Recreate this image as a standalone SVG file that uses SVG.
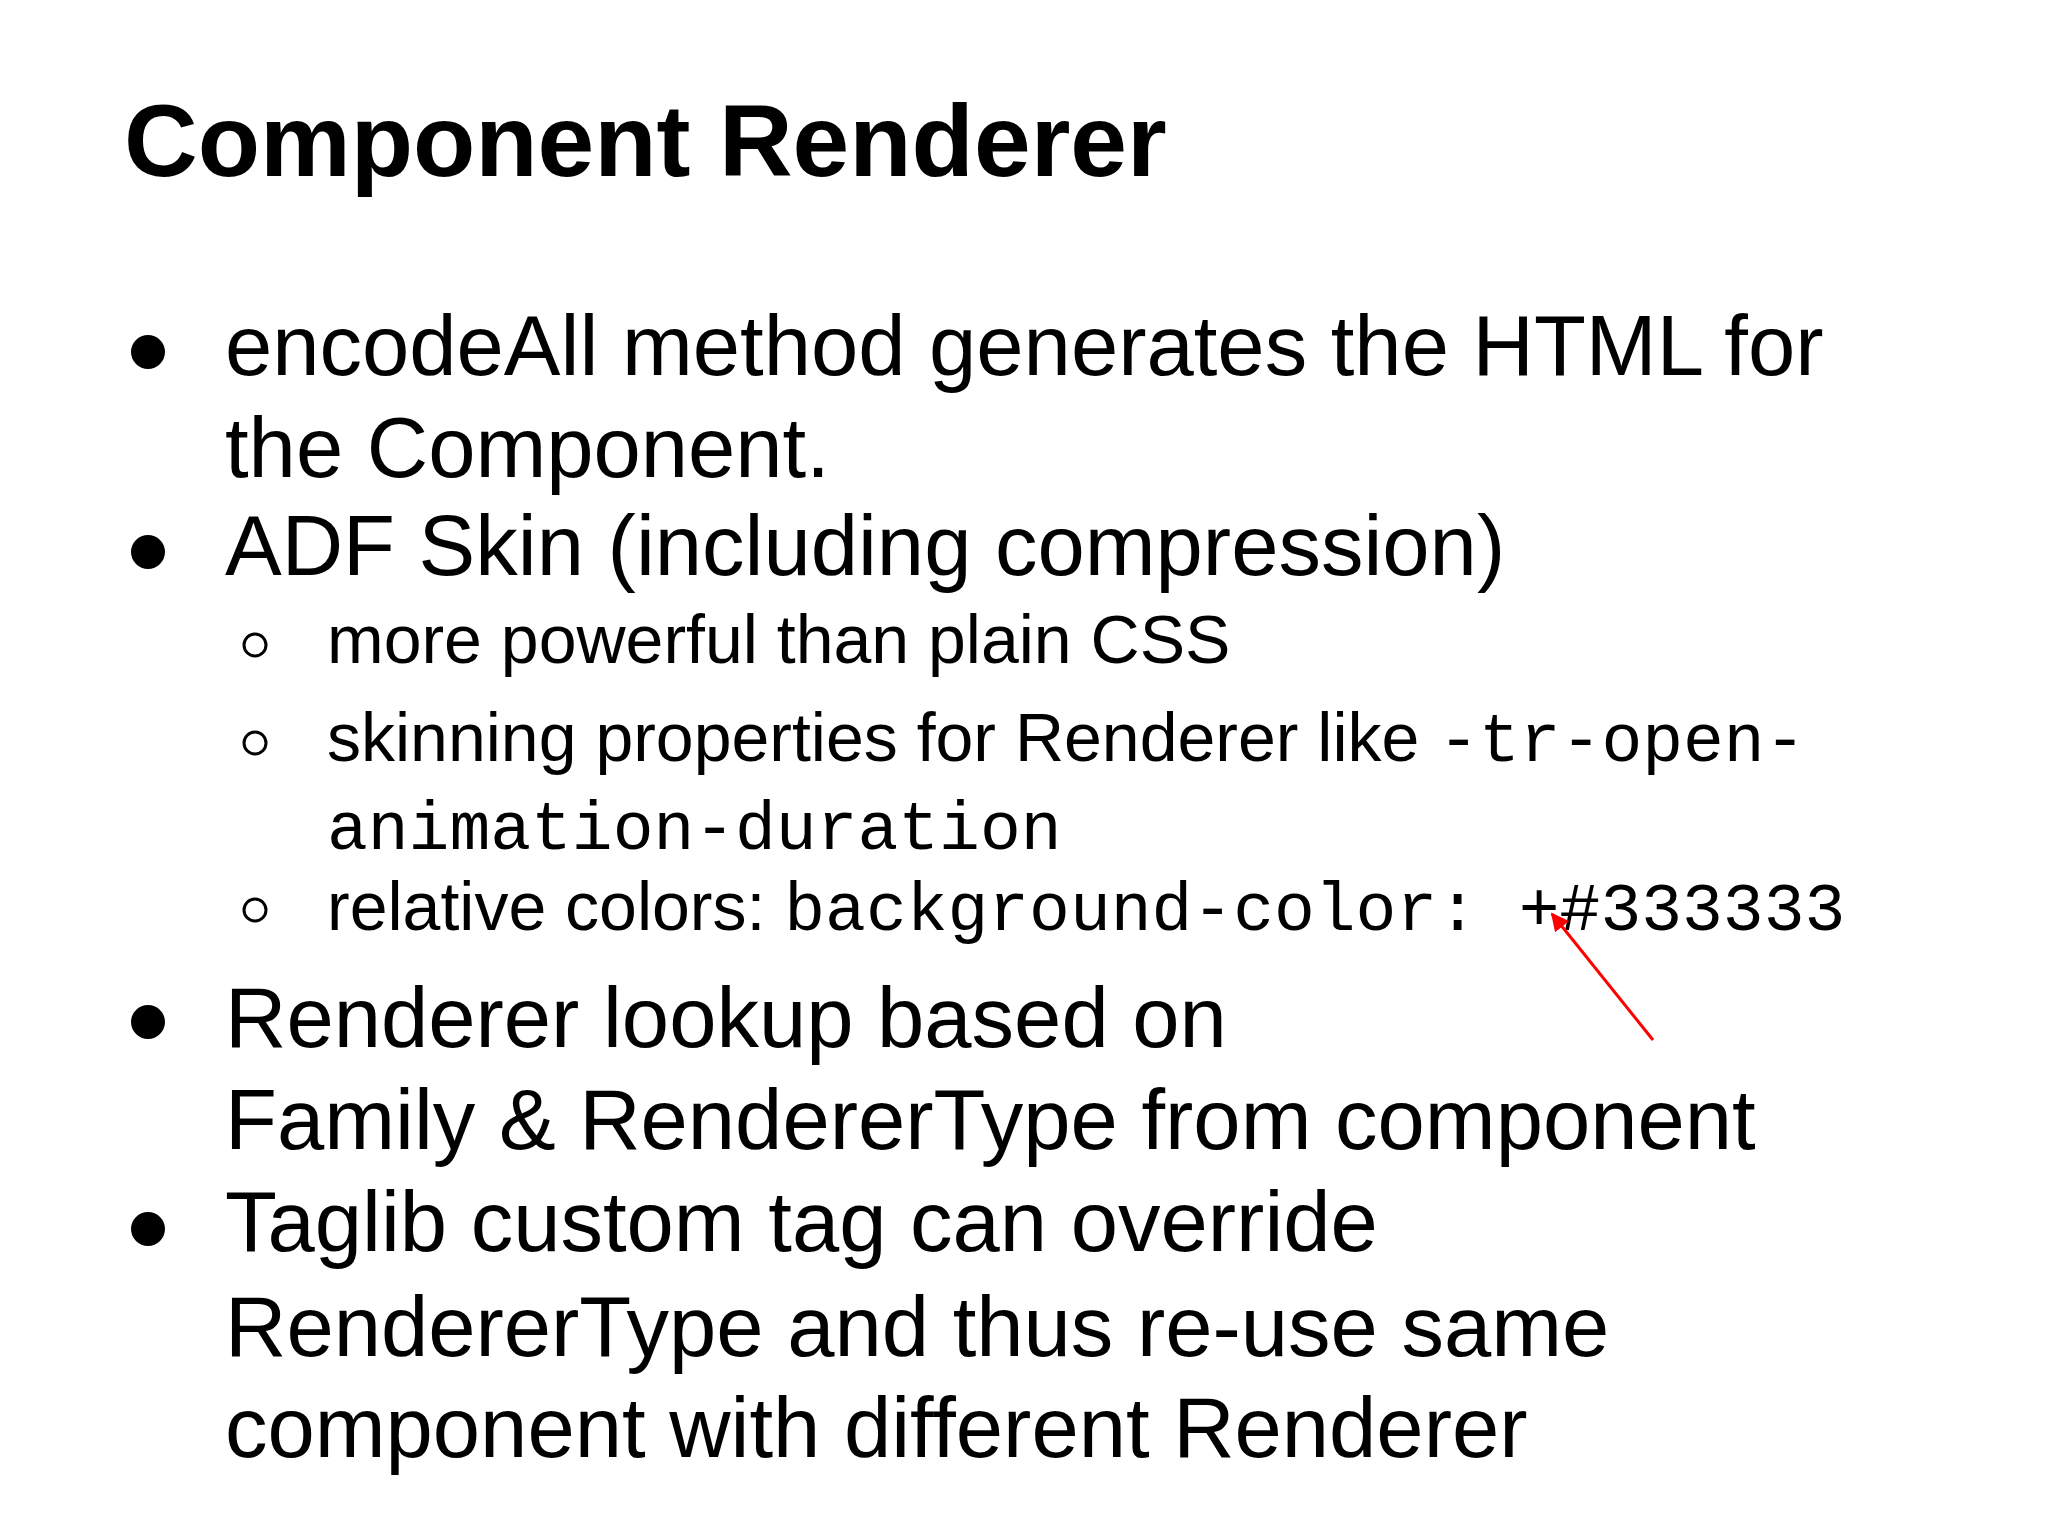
<svg xmlns="http://www.w3.org/2000/svg" width="2048" height="1536" viewBox="0 0 2048 1536">
<defs>
<style>
.t{font-family:"Liberation Sans",Arial,sans-serif;fill:#000}
.b{font-size:85px}
.s{font-size:68px}
.m{font-family:"Liberation Mono","Courier New",monospace;font-size:68px}
</style>
<marker id="ah" viewBox="0 0 10 10" refX="9" refY="5" markerWidth="6" markerHeight="6" orient="auto"><path d="M0,0L10,5L0,10z" fill="#f00"/></marker>
</defs>
<rect width="2048" height="1536" fill="#fff"/>
<text class="t" x="124" y="176" font-size="102" font-weight="bold">Component Renderer</text>
<g id="bullets" fill="#000">
<circle cx="148" cy="352" r="17"/>
<circle cx="148" cy="552" r="17"/>
<circle cx="148" cy="1022" r="17"/>
<circle cx="148" cy="1229" r="17"/>
</g>
<g id="subbullets" fill="none" stroke="#000" stroke-width="3">
<circle cx="255" cy="645" r="11"/>
<circle cx="255" cy="743" r="11"/>
<circle cx="255" cy="910" r="11"/>
</g>
<g class="t b">
<text x="225" y="375">encodeAll method generates the HTML for</text>
<text x="225" y="477">the Component.</text>
<text x="225" y="575">ADF Skin (including compression)</text>
<text x="225" y="1047">Renderer lookup based on</text>
<text x="225" y="1149">Family &amp; RendererType from component</text>
<text x="225" y="1251">Taglib custom tag can override</text>
<text x="225" y="1356">RendererType and thus re-use same</text>
<text x="225" y="1457">component with different Renderer</text>
</g>
<g class="t s">
<text x="327" y="663">more powerful than plain CSS</text>
<text x="327" y="761">skinning properties for Renderer like <tspan class="m">-tr-open-</tspan></text>
<text x="327" y="849" class="m">animation-duration</text>
<text x="327" y="930">relative colors: <tspan class="m">background-color: +#333333</tspan></text>
</g>
<g id="connectors">
<line x1="1653" y1="1040" x2="1552" y2="914" stroke="#f00" stroke-width="3" marker-end="url(#ah)"/>
</g>
</svg>
